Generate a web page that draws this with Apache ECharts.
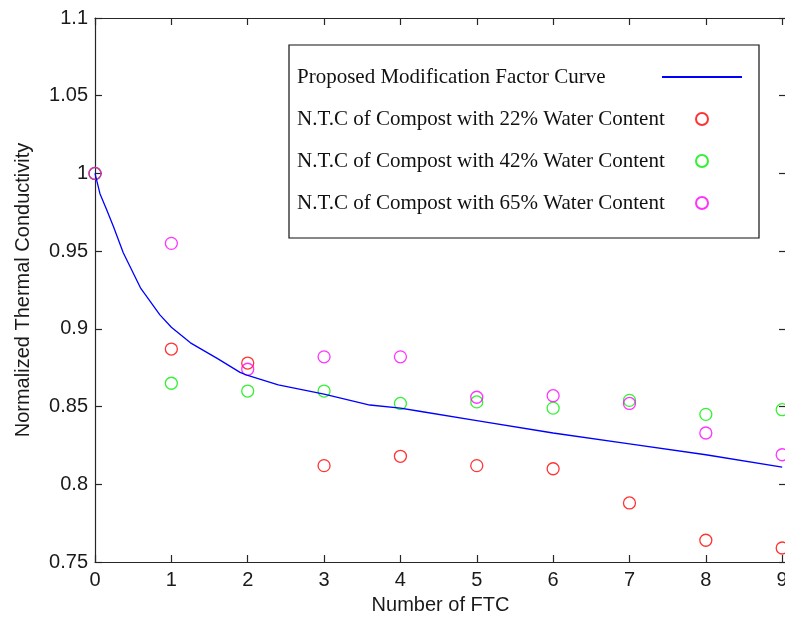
<!DOCTYPE html>
<html>
<head>
<meta charset="utf-8">
<script src="https://cdn.jsdelivr.net/npm/echarts@6/dist/echarts.min.js"></script>
<style>html,body{margin:0;padding:0;background:#fff}#c{width:785px;height:620px}</style>
</head>
<body>
<div id="c"></div>
<script>
// Data
var ftc = [0, 1, 2, 3, 4, 5, 6, 7, 8, 9];
var curveX = [0, 0.02, 0.065, 0.15, 0.24, 0.37, 0.6, 0.85, 1.0, 1.25, 1.6, 1.9, 2.0, 2.4, 3.0, 3.6, 4.0, 4.25, 5.0, 6.0, 7.0, 8.0, 9.0];
var curveY = [1.0, 0.996, 0.987, 0.977, 0.966, 0.949, 0.926, 0.909, 0.901, 0.891, 0.881, 0.872, 0.870, 0.864, 0.858, 0.851, 0.849, 0.847, 0.841, 0.833, 0.826, 0.819, 0.811];
var wc22 = [1.0, 0.887, 0.878, 0.812, 0.818, 0.812, 0.810, 0.788, 0.764, 0.759];
var wc42 = [1.0, 0.865, 0.860, 0.860, 0.852, 0.853, 0.849, 0.854, 0.845, 0.848];
var wc65 = [1.0, 0.955, 0.874, 0.882, 0.882, 0.856, 0.857, 0.852, 0.833, 0.819];
var seriesNames = [
  'Proposed Modification Factor Curve',
  'N.T.C of Compost with 22% Water Content',
  'N.T.C of Compost with 42% Water Content',
  'N.T.C of Compost with 65% Water Content'
];
var yTicks = [0.75, 0.8, 0.85, 0.9, 0.95, 1, 1.05, 1.1];

function pairs(xs, ys) { return xs.map(function (x, i) { return [x, ys[i]]; }); }

var axisCol = '#262626';
var sansFont = '"Liberation Sans", Arial, sans-serif';
var serifFont = '"Liberation Serif", "Times New Roman", serif';
var chart = echarts.init(document.getElementById('c'));
function scatter(name, vals, col) {
  return {
    name: name, type: 'scatter', xAxisIndex: 0, yAxisIndex: 0,
    data: pairs(ftc, vals), symbol: 'circle', symbolSize: 12,
    itemStyle: { color: 'rgba(255,255,255,0)', borderColor: col, borderWidth: 1.3 },
    emphasis: { disabled: true }
  };
}
var tickStyle = { show: true, inside: true, length: 7, lineStyle: { color: axisCol, width: 1.2 } };
var lineStyleAx = { show: true, onZero: false, lineStyle: { color: axisCol, width: 1.2 } };
chart.setOption({
  animation: false,
  grid: { left: 95, top: 18, width: 691, bottom: 58, containLabel: false, outerBoundsMode: 'none' },
  xAxis: [
    { type: 'value', position: 'bottom', min: 0, max: 9.05, interval: 1,
      name: 'Number of FTC', nameLocation: 'middle', nameGap: 33,
      nameTextStyle: { fontFamily: sansFont, fontSize: 20, color: '#1a1a1a' },
      axisLine: lineStyleAx, axisTick: tickStyle,
      axisLabel: { fontFamily: sansFont, fontSize: 20, color: '#1a1a1a', margin: 8, showMaxLabel: false },
      splitLine: { show: false } },
    { type: 'value', position: 'top', min: 0, max: 9.05, interval: 1,
      axisLine: lineStyleAx, axisTick: tickStyle,
      axisLabel: { show: false }, splitLine: { show: false } }
  ],
  yAxis: [
    { type: 'value', position: 'left', min: yTicks[0], max: yTicks[yTicks.length - 1], interval: 0.05,
      name: 'Normalized Thermal Conductivity', nameLocation: 'middle', nameGap: 62,
      nameTextStyle: { fontFamily: sansFont, fontSize: 20, color: '#1a1a1a' },
      axisLine: lineStyleAx, axisTick: tickStyle,
      axisLabel: { fontFamily: sansFont, fontSize: 20, color: '#1a1a1a', margin: 7,
        formatter: function (v) { return String(+v.toFixed(2)); } },
      splitLine: { show: false } },
    { type: 'value', position: 'right', min: yTicks[0], max: yTicks[yTicks.length - 1], interval: 0.05,
      axisLine: lineStyleAx, axisTick: tickStyle,
      axisLabel: { show: false }, splitLine: { show: false } }
  ],
  legend: {
    orient: 'vertical', left: 289, top: 45, align: 'right',
    padding: [20, 16, 23, 8], itemGap: 18, itemWidth: 80, itemHeight: 12,
    backgroundColor: '#fff', borderColor: '#111', borderWidth: 1.2,
    selectedMode: false,
    formatter: function (n) { return '{t|' + n + '}'; },
    textStyle: { fontFamily: serifFont, fontSize: 21, color: '#111', lineHeight: 24,
      rich: { t: { width: 360, align: 'left', fontFamily: serifFont, fontSize: 21, color: '#111', lineHeight: 24 } } },
    data: [
      { name: seriesNames[0], itemStyle: { opacity: 0 } },
      seriesNames[1], seriesNames[2], seriesNames[3]
    ]
  },
  series: [
    { name: seriesNames[0], type: 'line', data: pairs(curveX, curveY), symbol: 'none', showSymbol: false,
      smooth: false, z: 3,
      lineStyle: { color: '#0000ff', width: 1.3 }, itemStyle: { color: '#0000ff' },
      emphasis: { disabled: true } },
    scatter(seriesNames[1], wc22, '#ff0000'),
    scatter(seriesNames[2], wc42, '#00ee00'),
    scatter(seriesNames[3], wc65, '#ff00ff')
  ]
});
</script>
</body>
</html>
